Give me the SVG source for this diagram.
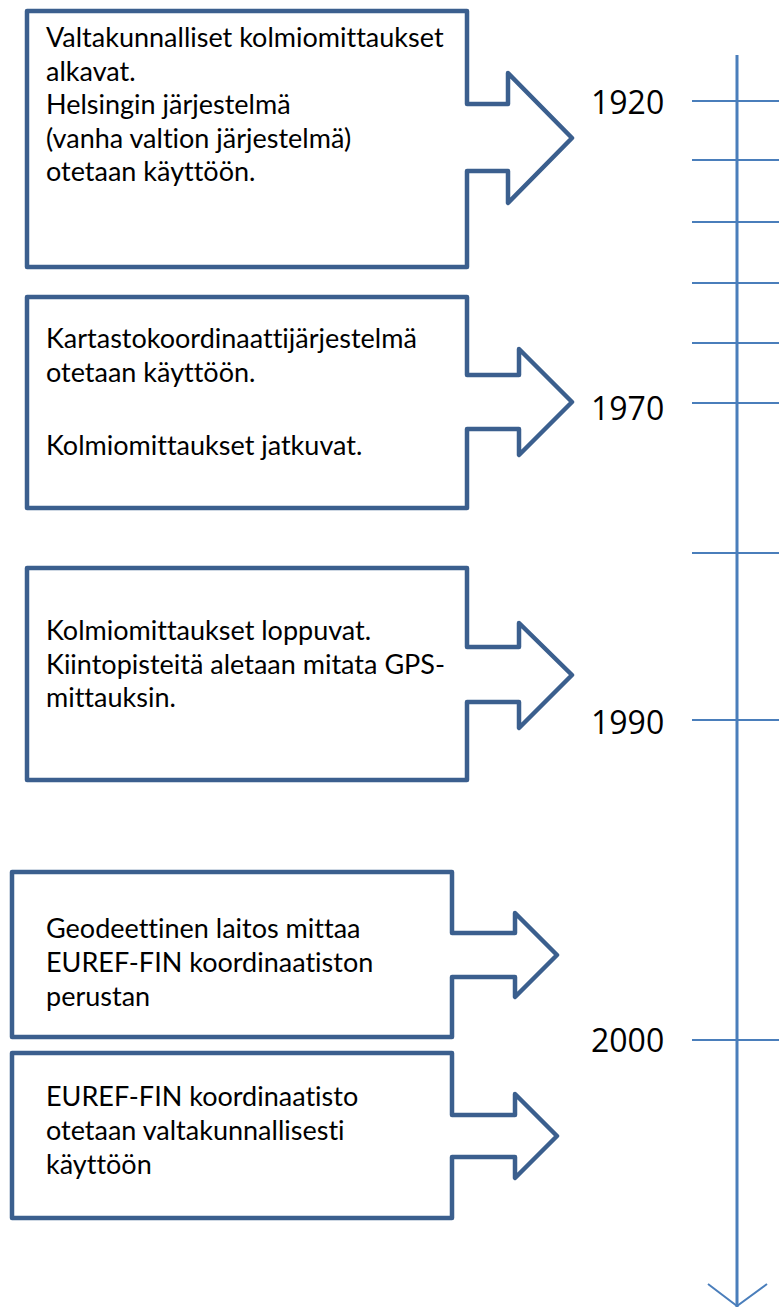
<svg xmlns="http://www.w3.org/2000/svg" width="779" height="1307" viewBox="0 0 779 1307">
<style>
.box{fill:#ffffff;stroke:#3b5f8e;stroke-width:4.5;stroke-linejoin:round}
.t{font-family:Lato,"Open Sans","Liberation Sans",sans-serif;font-size:27px;fill:#000;font-variant-ligatures:none}
.yr{font-family:"Open Sans","Liberation Sans",sans-serif;font-size:32px;fill:#000}
.axis{stroke:#4a7ebb;stroke-width:3;fill:none}
.tick{stroke:#4a7ebb;stroke-width:2;fill:none}
</style>
<rect width="779" height="1307" fill="#ffffff"/>
<g id="connectors">
<line class="axis" x1="737" y1="55" x2="737" y2="1307"/>
<polyline class="tick" points="708,1284 737,1306 767,1284"/>
<line class="tick" x1="692" y1="101" x2="779" y2="101"/>
<line class="tick" x1="692" y1="160" x2="779" y2="160"/>
<line class="tick" x1="692" y1="222" x2="779" y2="222"/>
<line class="tick" x1="692" y1="283" x2="779" y2="283"/>
<line class="tick" x1="692" y1="343" x2="779" y2="343"/>
<line class="tick" x1="692" y1="403" x2="779" y2="403"/>
<line class="tick" x1="692" y1="553" x2="779" y2="553"/>
<line class="tick" x1="692" y1="720" x2="779" y2="720"/>
<line class="tick" x1="692" y1="1040" x2="779" y2="1040"/>
</g>
<g id="years">
<text class="yr" x="591" y="114">1920</text>
<text class="yr" x="591" y="420">1970</text>
<text class="yr" x="591" y="734">1990</text>
<text class="yr" x="591" y="1052">2000</text>
</g>
<g id="node1">
<path class="box" d="M27,11 H467 V104 H508 V73 L572,138 L508,203 V171 H467 V267 H27 Z"/>
<text class="t" x="46" y="47">Valtakunnalliset kolmiomittaukset</text>
<text class="t" x="46" y="80.5">alkavat.</text>
<text class="t" x="46" y="114">Helsingin järjestelmä</text>
<text class="t" x="46" y="147.5">(vanha valtion järjestelmä)</text>
<text class="t" x="46" y="181">otetaan käyttöön.</text>
</g>
<g id="node2">
<path class="box" d="M27,297 H467 V375 H519 V349 L572,402 L519,455 V429 H467 V508 H27 Z"/>
<text class="t" x="46" y="348">Kartastokoordinaattijärjestelmä</text>
<text class="t" x="46" y="381.5">otetaan käyttöön.</text>
<text class="t" x="46" y="455">Kolmiomittaukset jatkuvat.</text>
</g>
<g id="node3">
<path class="box" d="M27,568 H467 V647 H519 V623 L572,675 L519,728 V702 H467 V780 H27 Z"/>
<text class="t" x="46" y="640">Kolmiomittaukset loppuvat.</text>
<text class="t" x="46" y="673.5">Kiintopisteitä aletaan mitata GPS-</text>
<text class="t" x="46" y="707">mittauksin.</text>
</g>
<g id="node4">
<path class="box" d="M12,872 H452 V933 H515 V913 L557,955 L515,997 V977 H452 V1037 H12 Z"/>
<text class="t" x="46" y="938">Geodeettinen laitos mittaa</text>
<text class="t" x="46" y="972">EUREF-FIN koordinaatiston</text>
<text class="t" x="46" y="1006">perustan</text>
</g>
<g id="node5">
<path class="box" d="M12,1053 H452 V1115 H515 V1094 L557,1136 L515,1178 V1157 H452 V1218 H12 Z"/>
<text class="t" x="46" y="1106">EUREF-FIN koordinaatisto</text>
<text class="t" x="46" y="1140">otetaan valtakunnallisesti</text>
<text class="t" x="46" y="1174">käyttöön</text>
</g>
</svg>
